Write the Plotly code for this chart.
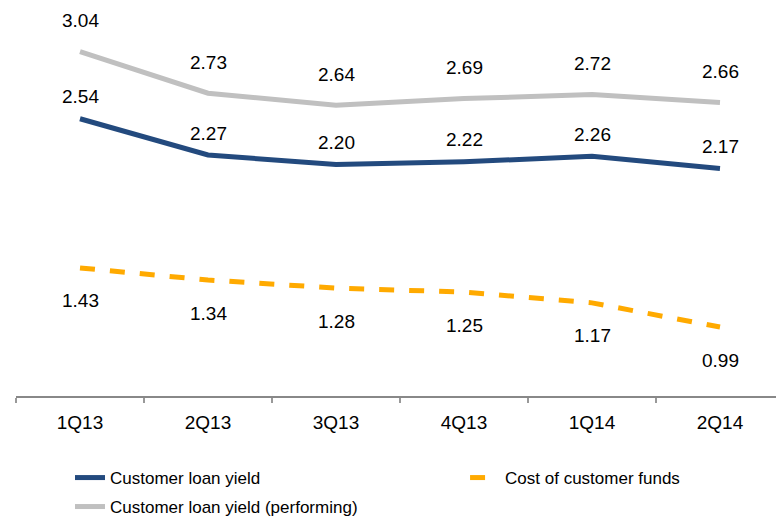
import plotly.graph_objects as go

quarters = ["1Q13", "2Q13", "3Q13", "4Q13", "1Q14", "2Q14"]
loan_yield = [2.54, 2.27, 2.20, 2.22, 2.26, 2.17]
loan_yield_perf = [3.04, 2.73, 2.64, 2.69, 2.72, 2.66]
cost_funds = [1.43, 1.34, 1.28, 1.25, 1.17, 0.99]

BLUE = "#234A7E"
GRAY = "#C0C0C0"
ORANGE = "#FFAA00"
FONT = "Liberation Sans, Arial, sans-serif"

fig = go.Figure()
fig.add_trace(go.Scatter(x=quarters, y=loan_yield, mode="lines", name="Customer loan yield",
                         line=dict(color=BLUE, width=5), legend="legend", showlegend=True))
fig.add_trace(go.Scatter(x=quarters, y=cost_funds, mode="lines", name="Cost of customer funds",
                         line=dict(color=ORANGE, width=5, dash="dash"), legend="legend2", showlegend=True))
fig.add_trace(go.Scatter(x=quarters, y=loan_yield_perf, mode="lines", name="Customer loan yield (performing)",
                         line=dict(color=GRAY, width=5), legend="legend3", showlegend=True))

for q, v in zip(quarters, loan_yield_perf):
    fig.add_annotation(x=q, y=v, text=f"{v:.2f}", showarrow=False, yshift=31,
                       font=dict(size=19, color="#000", family=FONT))
for q, v in zip(quarters, loan_yield):
    fig.add_annotation(x=q, y=v, text=f"{v:.2f}", showarrow=False, yshift=22,
                       font=dict(size=19, color="#000", family=FONT))
for q, v in zip(quarters, cost_funds):
    fig.add_annotation(x=q, y=v, text=f"{v:.2f}", showarrow=False, yshift=-33,
                       font=dict(size=19, color="#000", family=FONT))

leg_common = dict(orientation="h", xanchor="left", yanchor="middle", xref="container", yref="container",
                  font=dict(size=17, family=FONT, color="#000"), bgcolor="rgba(0,0,0,0)")

fig.update_layout(
    width=776, height=510,
    showlegend=True,
    margin=dict(l=8, r=0, t=0, b=122),
    paper_bgcolor="white", plot_bgcolor="white",
    font=dict(family=FONT, color="#000"),
    xaxis=dict(type="category", range=[-0.5, 5.5], showline=True, linecolor="#888888", linewidth=2,
               ticks="outside", tickson="boundaries", ticklen=5, tickcolor="#999999", tickwidth=2,
               showgrid=False, zeroline=False, tickfont=dict(size=19, family=FONT, color="#000"),
               ticklabelstandoff=8),
    yaxis=dict(range=[0.477, 3.364], visible=False, showgrid=False, zeroline=False),
    legend=dict(x=0.0799, y=0.0784, **leg_common),
    legend2=dict(x=0.589, y=0.0784, **leg_common),
    legend3=dict(x=0.0799, y=0.0216, **leg_common),
)

fig.write_html("out.html")
